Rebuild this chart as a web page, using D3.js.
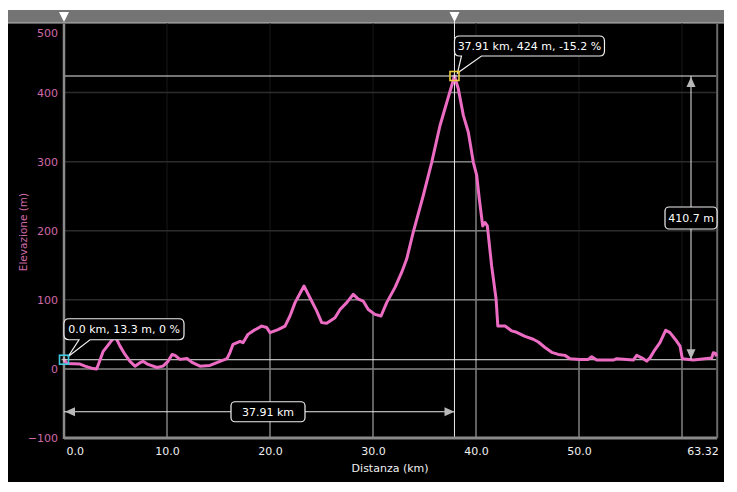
<!DOCTYPE html>
<html>
<head>
<meta charset="utf-8">
<script src="https://cdn.jsdelivr.net/npm/d3@7/dist/d3.min.js"></script>
<style>
  html, body { margin: 0; padding: 0; background: #ffffff; }
  svg { display: block; }
  text { font-family: "DejaVu Sans", Verdana, sans-serif; }
</style>
</head>
<body>
<svg id="chart" width="737" height="492"></svg>
<script>
// ---------------- DATA ----------------
const distanceKm = [
  0, 0.29, 1.55, 2.04, 2.82, 3.17, 3.40, 3.79, 4.47, 4.95,
  5.44, 5.92, 6.41, 6.89, 7.38, 7.67, 8.16, 9.03, 9.61, 10.10,
  10.49, 10.78, 11.26, 11.94, 12.43, 13.20, 14.17, 15.15, 15.83, 16.12,
  16.41, 17.09, 17.38, 17.86, 18.35, 19.19, 19.68, 20.00, 20.78, 21.46,
  21.94, 22.43, 23.30, 23.88, 24.53, 25.02, 25.50, 26.31, 26.80, 27.45,
  28.09, 28.57, 29.06, 29.54, 30.19, 30.78, 31.33, 32.14, 32.79, 33.27,
  33.91, 34.88, 35.70, 36.50, 36.99, 37.64, 37.91, 38.28, 38.77, 39.25,
  39.74, 40.07, 40.32, 40.65, 40.87, 41.10, 41.52, 41.95, 42.12, 42.82,
  43.47, 43.95, 44.76, 45.56, 46.05, 46.70, 47.35, 47.99, 48.64, 49.13,
  50.10, 50.90, 51.23, 51.72, 53.33, 53.66, 55.27, 55.60, 56.09, 56.57,
  56.89, 57.38, 57.86, 58.42, 58.83, 59.49, 59.81, 60.03, 61.10, 62.88,
  63.04, 63.27, 63.32
];
const elevationM = [
  13.3, 8, 7, 4, 0.5, 0, 9, 25, 38, 47.6,
  33, 21, 11, 4, 9, 11, 6.5, 2, 4, 11,
  21, 19.6, 13.8, 15, 9.4, 4, 5, 11, 14.8, 24,
  35.6, 40, 38, 50, 55, 62, 60, 52.5, 57, 62,
  76.6, 96, 120, 103, 84, 67, 66, 74, 86, 96,
  108, 101, 98, 86, 79, 76.6, 96, 118, 140, 159,
  198, 251, 299, 352, 377, 410, 424, 405.6, 367, 343,
  299, 280, 246, 207, 212, 207, 149, 101, 62, 62,
  55, 53, 47, 43, 39, 31, 24, 21, 19.6, 14.8,
  13.8, 13.8, 17.7, 12.8, 12.8, 14.8, 12.8, 19.6, 16, 11.3,
  16, 28, 38, 56, 52.5, 40, 33, 14.8, 12.8, 15.7,
  23.5, 22.5, 18
];
const xTickValues = [0, 10, 20, 30, 40, 50, 63.32];
const xTickLabels = ["0.0", "10.0", "20.0", "30.0", "40.0", "50.0", "63.32"];
const xGridValues = [10, 20, 30, 40, 50, 60];
const yTickValues = [-100, 0, 100, 200, 300, 400, 500];
const yGridValues = [0, 100, 200, 300, 400];
const xAxisTitle = "Distanza (km)";
const yAxisTitle = "Elevazione (m)";
const pointA = { km: 0.0, m: 13.3, label: "0.0 km, 13.3 m, 0 %" };
const pointB = { km: 37.91, m: 424, label: "37.91 km, 424 m, -15.2 %" };
const distLabel = "37.91 km";
const elevDiffLabel = "410.7 m";

// ---------------- SETUP ----------------
const svg = d3.select("#chart");
const L = 64, R = 716.2, T = 23.5, B = 438;
const x = d3.scaleLinear().domain([0, 63.32]).range([L, R]);
const y = d3.scaleLinear().domain([-100, 500]).range([B, T]);
const data = distanceKm.map((d, i) => ({ km: d, m: elevationM[i] }));

const pink = "#ec6cc4";
const axisPink = "#cf6aa8";

// top gray bar and black panel
svg.append("rect").attr("x", 8).attr("y", 10).attr("width", 716).attr("height", 13).attr("fill", "#747474");
svg.append("rect").attr("x", 8).attr("y", 23).attr("width", 716).attr("height", 459).attr("fill", "#000");
svg.append("line").attr("x1", 8).attr("x2", 724).attr("y1", 23).attr("y2", 23).attr("stroke", "#bdbdbd").attr("stroke-width", 1);

// clip for area under the curve
const area = d3.area().x(d => x(d.km)).y0(B).y1(d => y(d.m));
svg.append("defs").append("clipPath").attr("id", "under")
  .append("path").attr("d", area(data));

function drawGrid(g, vColor, hColor) {
  g.selectAll("line.v").data(xGridValues).join("line").attr("class", "v")
    .attr("x1", d => x(d)).attr("x2", d => x(d)).attr("y1", T).attr("y2", B)
    .attr("stroke", vColor).attr("stroke-width", 1.5);
  g.selectAll("line.h").data(yGridValues).join("line").attr("class", "h")
    .attr("x1", L).attr("x2", R).attr("y1", d => y(d)).attr("y2", d => y(d))
    .attr("stroke", hColor).attr("stroke-width", 1.5);
}
drawGrid(svg.append("g"), "#111111", "#2c2c2c");
drawGrid(svg.append("g").attr("clip-path", "url(#under)"), "#7d7d7d", "#7d7d7d");

// reference lines at the two points
svg.append("line").attr("x1", L).attr("x2", R).attr("y1", y(pointA.m)).attr("y2", y(pointA.m))
  .attr("stroke", "#e8e8e8").attr("stroke-width", 1);
svg.append("line").attr("x1", L).attr("x2", R).attr("y1", y(pointB.m)).attr("y2", y(pointB.m))
  .attr("stroke", "#e8e8e8").attr("stroke-width", 1);
svg.append("line").attr("x1", x(pointB.km)).attr("x2", x(pointB.km)).attr("y1", 12).attr("y2", B)
  .attr("stroke", "#e8e8e8").attr("stroke-width", 1);

// axes lines
svg.append("line").attr("x1", L).attr("x2", L).attr("y1", T).attr("y2", B + 1)
  .attr("stroke", "#8a8a8a").attr("stroke-width", 2.5);
svg.append("line").attr("x1", L).attr("x2", R + 1).attr("y1", B).attr("y2", B)
  .attr("stroke", "#8a8a8a").attr("stroke-width", 3);
svg.append("line").attr("x1", R + 1).attr("x2", R + 1).attr("y1", T).attr("y2", B)
  .attr("stroke", "#6a6a6a").attr("stroke-width", 2);

// y axis
const yAxisG = svg.append("g").attr("transform", `translate(${L - 4},0)`)
  .call(d3.axisLeft(y).tickValues(yTickValues).tickSize(0).tickPadding(2).tickFormat(d3.format("d")));
yAxisG.select(".domain").remove();
yAxisG.selectAll("text").attr("fill", axisPink).attr("font-size", 11)
  .attr("font-family", "DejaVu Sans, Verdana, sans-serif")
  .attr("dy", d => d === 500 ? "1.15em" : "0.35em");

svg.append("text").attr("transform", `translate(27,232) rotate(-90)`)
  .attr("text-anchor", "middle").attr("fill", axisPink).attr("font-size", 10.5).text(yAxisTitle);

// x axis
const xAxisG = svg.append("g").attr("transform", `translate(0,${B + 4})`)
  .call(d3.axisBottom(x).tickValues(xTickValues).tickSize(0).tickPadding(5)
    .tickFormat((d, i) => xTickLabels[i]));
xAxisG.select(".domain").remove();
xAxisG.selectAll("text").attr("fill", "#f0f0f0").attr("font-size", 11)
  .attr("font-family", "DejaVu Sans, Verdana, sans-serif")
  .attr("text-anchor", (d, i) => i === 0 ? "start" : (i === xTickValues.length - 1 ? "end" : "middle"))
  .attr("dx", (d, i) => i === 0 ? 2 : (i === xTickValues.length - 1 ? 2 : 0));

svg.append("text").attr("x", (L + R) / 2).attr("y", 472).attr("text-anchor", "middle")
  .attr("fill", "#f0f0f0").attr("font-size", 11).text(xAxisTitle);

// elevation line
const line = d3.line().x(d => x(d.km)).y(d => y(d.m));
svg.append("path").datum(data).attr("d", line).attr("fill", "none")
  .attr("stroke", pink).attr("stroke-width", 3).attr("stroke-linejoin", "round");

// top marker triangles
[pointA.km, pointB.km].forEach(k => {
  const cx = x(k);
  svg.append("path").attr("d", `M${cx - 5},12 L${cx + 5},12 L${cx},22 Z`).attr("fill", "#ffffff");
});

// dimension arrows
function arrowHead(tipX, tipY, dir) {
  const s = 10, w = 4.5;
  let p;
  if (dir === "left") p = `M${tipX},${tipY} L${tipX + s},${tipY - w} L${tipX + s},${tipY + w} Z`;
  if (dir === "right") p = `M${tipX},${tipY} L${tipX - s},${tipY - w} L${tipX - s},${tipY + w} Z`;
  if (dir === "up") p = `M${tipX},${tipY} L${tipX - w},${tipY + s} L${tipX + w},${tipY + s} Z`;
  if (dir === "down") p = `M${tipX},${tipY} L${tipX - w},${tipY - s} L${tipX + w},${tipY - s} Z`;
  svg.append("path").attr("d", p).attr("fill", "#b8b8b8");
}
const dimY = y(-62);
svg.append("line").attr("x1", x(pointA.km)).attr("x2", x(pointB.km)).attr("y1", dimY).attr("y2", dimY)
  .attr("stroke", "#e8e8e8").attr("stroke-width", 1);
arrowHead(x(pointA.km) + 1, dimY, "left");
arrowHead(x(pointB.km), dimY, "right");

const dimX = 691;
svg.append("line").attr("x1", dimX).attr("x2", dimX).attr("y1", y(pointB.m)).attr("y2", y(pointA.m))
  .attr("stroke", "#e8e8e8").attr("stroke-width", 1);
arrowHead(dimX, y(pointB.m) + 1, "up");
arrowHead(dimX, y(pointA.m) - 0.5, "down");

function labelBox(cx, cy, text, w, h) {
  svg.append("rect").attr("x", cx - w / 2).attr("y", cy - h / 2).attr("width", w).attr("height", h)
    .attr("rx", 4).attr("fill", "#000").attr("stroke", "#f0f0f0").attr("stroke-width", 1.2);
  svg.append("text").attr("x", cx).attr("y", cy).attr("dy", "0.36em").attr("text-anchor", "middle")
    .attr("fill", "#ffffff").attr("font-size", 11).text(text);
}
labelBox(268, dimY, distLabel, 74, 20);
labelBox(dimX, 218, elevDiffLabel, 52, 22);

// callouts
function callout(x0, y0, x1, y1, p1, p2, tx, ty, text) {
  const r = 5;
  const d = `M${x0 + r},${y0} H${x1 - r} Q${x1},${y0} ${x1},${y0 + r} V${y1 - r} Q${x1},${y1} ${x1 - r},${y1}` +
    ` H${p2} L${tx},${ty} L${p1},${y1} H${x0 + r} Q${x0},${y1} ${x0},${y1 - r} V${y0 + r} Q${x0},${y0} ${x0 + r},${y0} Z`;
  svg.append("path").attr("d", d).attr("fill", "#000").attr("stroke", "#f0f0f0").attr("stroke-width", 1.2);
  svg.append("text").attr("x", (x0 + x1) / 2).attr("y", (y0 + y1) / 2).attr("dy", "0.36em")
    .attr("text-anchor", "middle").attr("fill", "#ffffff").attr("font-size", 11).text(text);
}
const ax = x(pointA.km), ay = y(pointA.m);
const bx = x(pointB.km), by = y(pointB.m);
callout(ax, ay - 41, ax + 120, ay - 20, ax + 15, ax + 26, ax + 4, ay - 3, pointA.label);
callout(bx, by - 40, bx + 150, by - 20, bx + 7, bx + 27, bx + 3, by - 3, pointB.label);

// point markers
function marker(cx, cy, color) {
  svg.append("rect").attr("x", cx - 4.5).attr("y", cy - 4.5).attr("width", 9).attr("height", 9)
    .attr("fill", "none").attr("stroke", color).attr("stroke-width", 1.6);
  svg.append("path").attr("d", `M${cx - 2.5},${cy} H${cx + 2.5} M${cx},${cy - 2.5} V${cy + 2.5}`)
    .attr("stroke", "#dddddd").attr("stroke-width", 1);
}
marker(ax, ay, "#3ccbe0");
marker(bx, by, "#e8cc3a");
</script>
</body>
</html>
